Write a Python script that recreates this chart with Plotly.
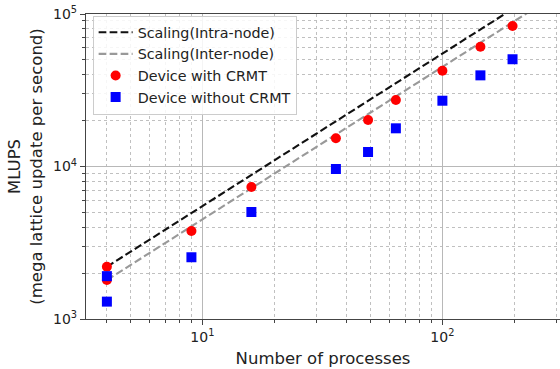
import plotly.graph_objects as go

# Number of processes for each measurement
processes = [4, 4, 9, 16, 36, 49, 64, 100, 144, 196]

# MLUPS measurements
with_crmt = [2200, 1800, 3780, 7340, 15300, 20200, 27300, 42500, 61000, 83400]
without_crmt = [1910, 1300, 2540, 5030, 9630, 12450, 17800, 27000, 39600, 50500]

# Ideal linear scaling references (endpoints)
scaling_n = [4, 256]
scaling_intra = [2200, 140800]
scaling_inter = [1800, 115200]

x_tickvals = [10, 100]
x_ticktext = ["10<sup>1</sup>", "10<sup>2</sup>"]
y_tickvals = [1000, 10000, 100000]
y_ticktext = ["10<sup>3</sup>", "10<sup>4</sup>", "10<sup>5</sup>"]

FONT = "DejaVu Sans"
dash = "7.7px,3.3px"

fig = go.Figure()
fig.add_trace(go.Scatter(
    x=scaling_n, y=scaling_intra, mode="lines", name="Scaling(Intra-node)",
    line=dict(color="#111111", width=2.1, dash=dash),
))
fig.add_trace(go.Scatter(
    x=scaling_n, y=scaling_inter, mode="lines", name="Scaling(Inter-node)",
    line=dict(color="#999999", width=2.1, dash=dash),
))
fig.add_trace(go.Scatter(
    x=processes, y=with_crmt, mode="markers", name="Device with CRMT",
    marker=dict(color="#ff0000", size=10, symbol="circle", line=dict(width=0)),
))
fig.add_trace(go.Scatter(
    x=processes, y=without_crmt, mode="markers", name="Device without CRMT",
    marker=dict(color="#0000ff", size=10, symbol="square", line=dict(width=0)),
))

axis_common = dict(
    type="log",
    showline=True,
    linecolor="#444444",
    linewidth=1.3,
    ticks="outside",
    ticklen=5,
    tickwidth=1,
    tickcolor="#444444",
    showgrid=True,
    gridcolor="#b8b8b8",
    gridwidth=1,
    zeroline=False,
    tickfont=dict(family=FONT, size=14, color="#222222"),
    minor=dict(
        ticks="outside", ticklen=2.5, tickwidth=0.8, tickcolor="#444444",
        showgrid=True, gridcolor="#c0c0c0", gridwidth=0.8, griddash="dot",
        dtick="D1",
    ),
)

fig.update_xaxes(
    **axis_common,
    range=[0.515, 2.49],
    tickmode="array", tickvals=x_tickvals, ticktext=x_ticktext,
    mirror=True,
    title=dict(text="Number of processes", font=dict(family=FONT, size=16.5, color="#222222"),
               standoff=8),
)
fig.update_yaxes(
    **axis_common,
    range=[3, 5],
    tickmode="array", tickvals=y_tickvals, ticktext=y_ticktext,
    title=dict(text="MLUPS<br>(mega lattice update per second)",
               font=dict(family=FONT, size=16.5, color="#222222"), standoff=6),
)

fig.update_layout(
    width=560, height=369,
    margin=dict(l=86, r=0, t=14, b=50),
    paper_bgcolor="white",
    plot_bgcolor="white",
    font=dict(family=FONT, size=14, color="#222222"),
    showlegend=True,
    legend=dict(
        x=0.014, y=0.995, xanchor="left", yanchor="top",
        bgcolor="rgba(255,255,255,0.85)",
        bordercolor="#cccccc", borderwidth=1,
        font=dict(family=FONT, size=14.3, color="#222222"),
        itemwidth=34,
    ),
)

fig.write_html("out.html")
